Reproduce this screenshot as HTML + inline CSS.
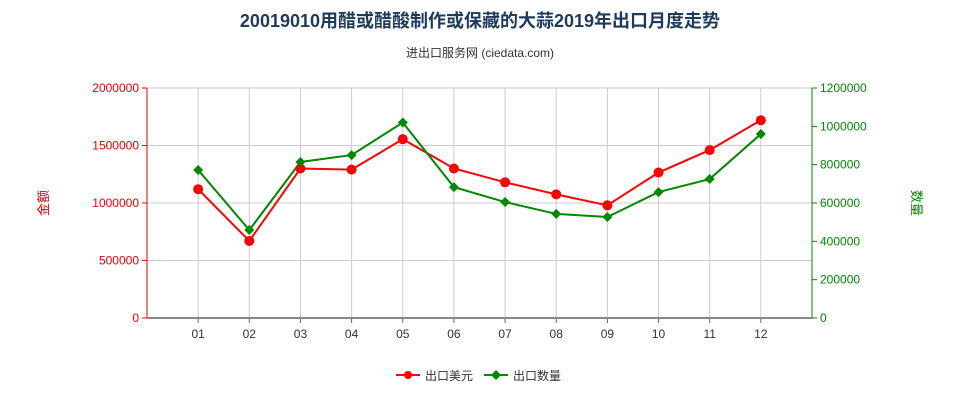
<!DOCTYPE html>
<html><head><meta charset="utf-8"><style>
body{margin:0;background:#fff;font-family:"Liberation Sans","Noto Sans CJK SC",sans-serif;}
svg text{font-family:"Liberation Sans","Noto Sans CJK SC",sans-serif;}
</style></head><body>
<svg id="c" width="960" height="400" xmlns="http://www.w3.org/2000/svg">
<text x="480" y="27" text-anchor="middle" font-size="18" font-weight="bold" fill="#1f3a5f">20019010用醋或醋酸制作或保藏的大蒜2019年出口月度走势</text>
<text x="480" y="57" text-anchor="middle" font-size="12" fill="#333">进出口服务网 (ciedata.com)</text>
<text x="48" y="203" text-anchor="middle" font-size="13" fill="#e00" transform="rotate(-90 48 203)">金额</text>
<text x="912" y="203" text-anchor="middle" font-size="13" fill="#080" transform="rotate(90 912 203)">数量</text>
<g id="grid"></g><g id="axes"></g><g id="series"></g>
<g>
<g><line x1="396" y1="375" x2="420" y2="375" stroke="#f00" stroke-width="2"/><circle cx="408" cy="375" r="4" fill="#f00"/><text x="425" y="380" font-size="12" fill="#333">出口美元</text></g>
<g><line x1="484" y1="375" x2="508" y2="375" stroke="#080" stroke-width="2"/><path d="M496 370 L501 375 L496 380 L491 375Z" fill="#080"/><text x="513" y="380" font-size="12" fill="#333">出口数量</text></g>
</g>
</svg>
<script>
const months=["01","02","03","04","05","06","07","08","09","10","11","12"];
const amount=[1120000,670000,1300000,1290000,1555000,1300000,1180000,1075000,980000,1265000,1460000,1720000];
const quantity=[772000,459000,814000,850000,1020000,683000,605000,543000,527000,657000,725000,960000];
const leftTicks=[0,500000,1000000,1500000,2000000];
const rightTicks=[0,200000,400000,600000,800000,1000000,1200000];
const NS="http://www.w3.org/2000/svg";
const L=147,R=812,T=88,B=318;
const band=(R-L)/13;
const x=i=>L+band*(i+1);
const yl=v=>B-(v/2000000)*(B-T);
const yr=v=>B-(v/1200000)*(B-T);
function mk(p,tag,a){const e=document.createElementNS(NS,tag);for(const k in a)e.setAttribute(k,a[k]);document.getElementById(p).appendChild(e);return e;}
leftTicks.forEach(v=>{
 const g=mk('grid','line',{x1:L,x2:R,y1:yl(v),y2:yl(v),stroke:'#ccc'});
 
 
 const t=mk('axes','text',{x:L-8,y:yl(v)+4,'text-anchor':'end','font-size':12,fill:'#e00'});t.textContent=v;
 
 
 mk('axes','line',{x1:L-5,x2:L,y1:yl(v),y2:yl(v),stroke:'#e00'});
});
months.forEach((m,i)=>{
 const g=mk('grid','line',{x1:x(i),x2:x(i),y1:T,y2:B,stroke:'#ccc'});
 
 
 const t=mk('axes','text',{x:x(i),y:B+20,'text-anchor':'middle','font-size':12,fill:'#333'});t.textContent=m;
 
 
 mk('axes','line',{x1:x(i),x2:x(i),y1:B,y2:B+5,stroke:'#666'});
});
rightTicks.forEach(v=>{
 const t=mk('axes','text',{x:R+8,y:yr(v)+4,'font-size':12,fill:'#080'});t.textContent=v;
 
 
 mk('axes','line',{x1:R,x2:R+5,y1:yr(v),y2:yr(v),stroke:'#080'});
});
const la=mk('axes','line',{x1:L,x2:L,y1:T,y2:B,stroke:'#e00'});


const ra=mk('axes','line',{x1:R,x2:R,y1:T,y2:B,stroke:'#080'});


const xa=mk('axes','line',{x1:L,x2:R,y1:B,y2:B,stroke:'#888','stroke-width':2});


const pa=mk('series','polyline',{points:amount.map((v,i)=>x(i)+','+yl(v)).join(' '),fill:'none',stroke:'#f00','stroke-width':2});


const pq=mk('series','polyline',{points:quantity.map((v,i)=>x(i)+','+yr(v)).join(' '),fill:'none',stroke:'#080','stroke-width':2});


amount.forEach((v,i)=>{
 const c=mk('series','circle',{cx:x(i),cy:yl(v),r:5,fill:'#f00'});
 
 
});
quantity.forEach((v,i)=>{
 const cx=x(i),cy=yr(v);
 const d=mk('series','path',{d:`M${cx} ${cy-5} L${cx+5} ${cy} L${cx} ${cy+5} L${cx-5} ${cy}Z`,fill:'#080'});
 
 
});
</script>
</body></html>
